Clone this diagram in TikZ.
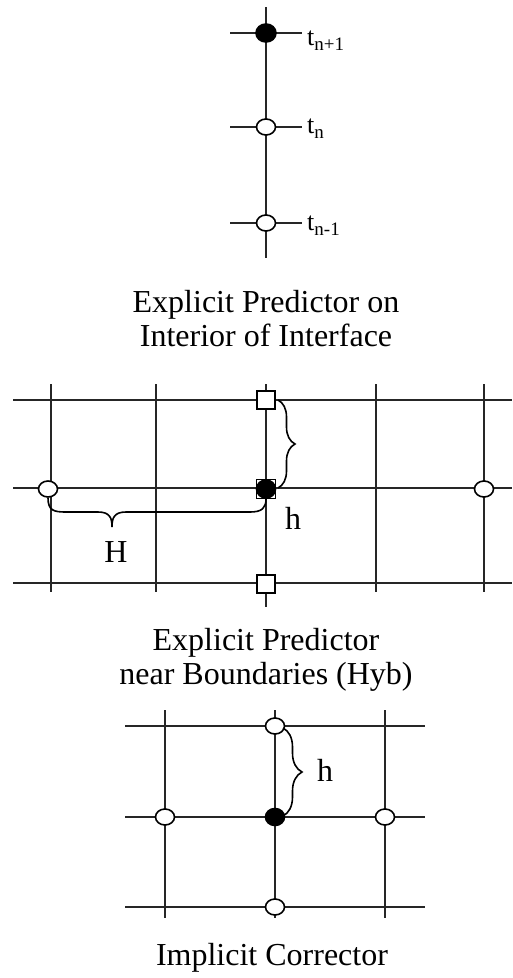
\documentclass[tikz,border=0pt]{standalone}
\usepackage{fontspec}
\setmainfont{Liberation Serif}
\usetikzlibrary{shapes.geometric,decorations.pathreplacing}
\begin{document}
\begin{tikzpicture}[x=1pt,y=-1pt,
  gline/.style={line width=1.8pt,black!85},
  opennode/.style={ellipse,draw,line width=1.6pt,fill=white,minimum width=19pt,minimum height=16pt,inner sep=0pt},
  fillnode/.style={ellipse,draw,line width=1.6pt,fill=black,minimum width=20pt,minimum height=18pt,inner sep=0pt},
  sqnode/.style={rectangle,draw,line width=1.5pt,fill=white,minimum size=18pt,inner sep=0pt},
  bigtext/.style={font=\fontsize{32}{38}\selectfont,inner sep=0pt},
  tlabel/.style={font=\fontsize{26}{30}\selectfont,inner sep=0pt,anchor=base west},
  bracestyle/.style={line width=1.6pt,decorate,decoration={brace,amplitude=#1}}
]
\useasboundingbox (0,0) rectangle (512,978);
\newcommand{\subsc}[1]{\raisebox{-5pt}{\fontsize{19}{19}\selectfont #1}}
% ---------- Section 1 ----------
\coordinate (v1t) at (266,7);
\coordinate (v1b) at (266,258);
\draw[gline] (v1t) -- (v1b);
\foreach \y/\n in {33/a,127/b,223/c}{
  \coordinate (h1l\n) at (230,\y);
  \coordinate (h1r\n) at (302,\y);
  \draw[gline] (h1l\n) -- (h1r\n);
}
\node[fillnode] (tn1) at (266,33) {};
\node[opennode] (tn) at (266,127) {};
\node[opennode] (tnm) at (266,223) {};
\node[tlabel] (ltn1) at (307,45) {t\subsc{n+1}};
\node[tlabel] (ltn) at (307,133) {t\subsc{n}};
\node[tlabel] (ltnm) at (307,230) {t\subsc{n-1}};
\node[bigtext,anchor=base] (title1a) at (266,312) {Explicit Predictor on};
\node[bigtext,anchor=base] (title1b) at (266,346) {Interior of Interface};
% ---------- Section 2 ----------
\foreach \y/\n in {400/a,488/b,583/c}{
  \coordinate (h2l\n) at (13,\y);
  \coordinate (h2r\n) at (512,\y);
  \draw[gline] (h2l\n) -- (h2r\n);
}
\foreach \x/\n in {51/a,156/b,376/d,484/e}{
  \coordinate (v2t\n) at (\x,384);
  \coordinate (v2b\n) at (\x,592);
  \draw[gline] (v2t\n) -- (v2b\n);
}
\coordinate (v2tc) at (266,384);
\coordinate (v2bc) at (266,607);
\draw[gline] (v2tc) -- (v2bc);
\node[sqnode] (sqt) at (266,400) {};
\node[sqnode,minimum size=19pt] (sqm) at (266,489) {};
\node[fillnode,minimum width=19pt,minimum height=18pt] (mc) at (266,489) {};
\node[sqnode] (sqb) at (266,584) {};
\node[opennode] (lc) at (48,489) {};
\node[opennode] (rc) at (484,489) {};
\coordinate (b2t) at (278,400);
\coordinate (b2b) at (278,488);
\draw[bracestyle=17pt] (b2t) -- (b2b);
\draw[line width=1.6pt] (lc.south) .. controls +(0,13) and +(-12,0) .. (66,512) -- (98,512)
  .. controls (110,512) and (112,518) .. (112,527)
  .. controls (112,518) and (114,512) .. (126,512) -- (250,512)
  .. controls (262,512) and (266,508) .. (mc.south);
\node[bigtext] (hlab2) at (293,518) {h};
\node[bigtext] (Hlab) at (116,552) {H};
\node[bigtext,anchor=base] (title2a) at (266,650) {Explicit Predictor};
\node[bigtext,anchor=base] (title2b) at (266,684) {near Boundaries (Hyb)};
% ---------- Section 3 ----------
\foreach \y/\n in {726/a,817/b,907/c}{
  \coordinate (h3l\n) at (125,\y);
  \coordinate (h3r\n) at (425,\y);
  \draw[gline] (h3l\n) -- (h3r\n);
}
\foreach \x/\n in {165/a,275/b,385/c}{
  \coordinate (v3t\n) at (\x,710);
  \coordinate (v3b\n) at (\x,918);
  \draw[gline] (v3t\n) -- (v3b\n);
}
\node[opennode] (c3t) at (275,726) {};
\node[opennode] (c3l) at (165,817) {};
\node[opennode] (c3r) at (385,817) {};
\node[opennode] (c3b) at (275,907) {};
\node[fillnode,minimum width=19pt,minimum height=17pt] (c3m) at (275,817) {};
\coordinate (b3t) at (283,728);
\coordinate (b3b) at (283,816);
\draw[bracestyle=19pt] (b3t) -- (b3b);
\node[bigtext] (hlab3) at (325,770) {h};
\node[bigtext,anchor=base] (title3) at (272,965) {Implicit Corrector};
\end{tikzpicture}
\end{document}
